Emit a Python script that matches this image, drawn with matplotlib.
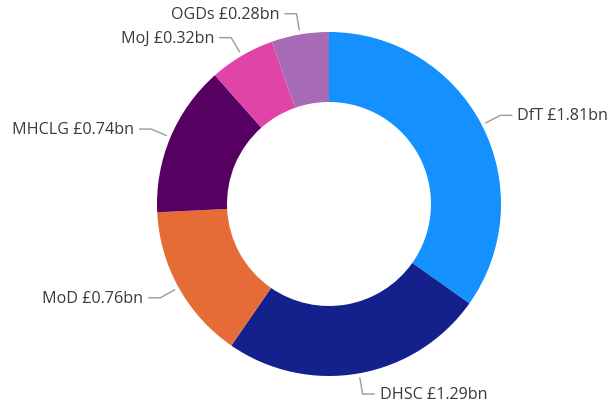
import numpy as np
import matplotlib
matplotlib.use("Agg")
import matplotlib.pyplot as plt

departments = ["DfT", "DHSC", "MoD", "MHCLG", "MoJ", "OGDs"]
values_bn = [1.81, 1.29, 0.76, 0.74, 0.32, 0.28]
colors = ["#1490FF", "#14208C", "#E66C37", "#560062", "#E044A7", "#A66BB4"]

W, H = 616, 410
fig = plt.figure(figsize=(W / 100, H / 100), dpi=100)
ax = fig.add_axes([0, 0, 1, 1])

cx, cy, R, ring = 329, 205, 172, 70
wedges, _ = ax.pie(values_bn, colors=colors, startangle=90, counterclock=False,
                   radius=R, center=(cx, cy), frame=True,
                   wedgeprops=dict(width=ring, linewidth=0))
ax.set_xlim(0, W)
ax.set_ylim(0, H)
ax.set_aspect("equal")
ax.axis("off")

for w, name, v in zip(wedges, departments, values_bn):
    ang = np.deg2rad((w.theta1 + w.theta2) / 2)
    ca, sa = np.cos(ang), np.sin(ang)
    x0, y0 = cx + (R + 4) * ca, cy + (R + 4) * sa
    x1, y1 = cx + (R + 21) * ca, cy + (R + 21) * sa
    side = 1 if ca >= 0 else -1
    x2 = x1 + side * 12
    ax.plot([x0, x1, x2], [y0, y1, y1], color="#9a9a9a", lw=1.0,
            solid_capstyle="butt", solid_joinstyle="miter")
    ax.text(x2 + side * 5, y1, f"{name} £{v:.2f}bn", ha="left" if side > 0 else "right",
            va="center", fontsize=11.6, color="#3a3a3a", family=["Open Sans", "DejaVu Sans"])

fig.savefig("out.png", dpi=100, facecolor="white")
